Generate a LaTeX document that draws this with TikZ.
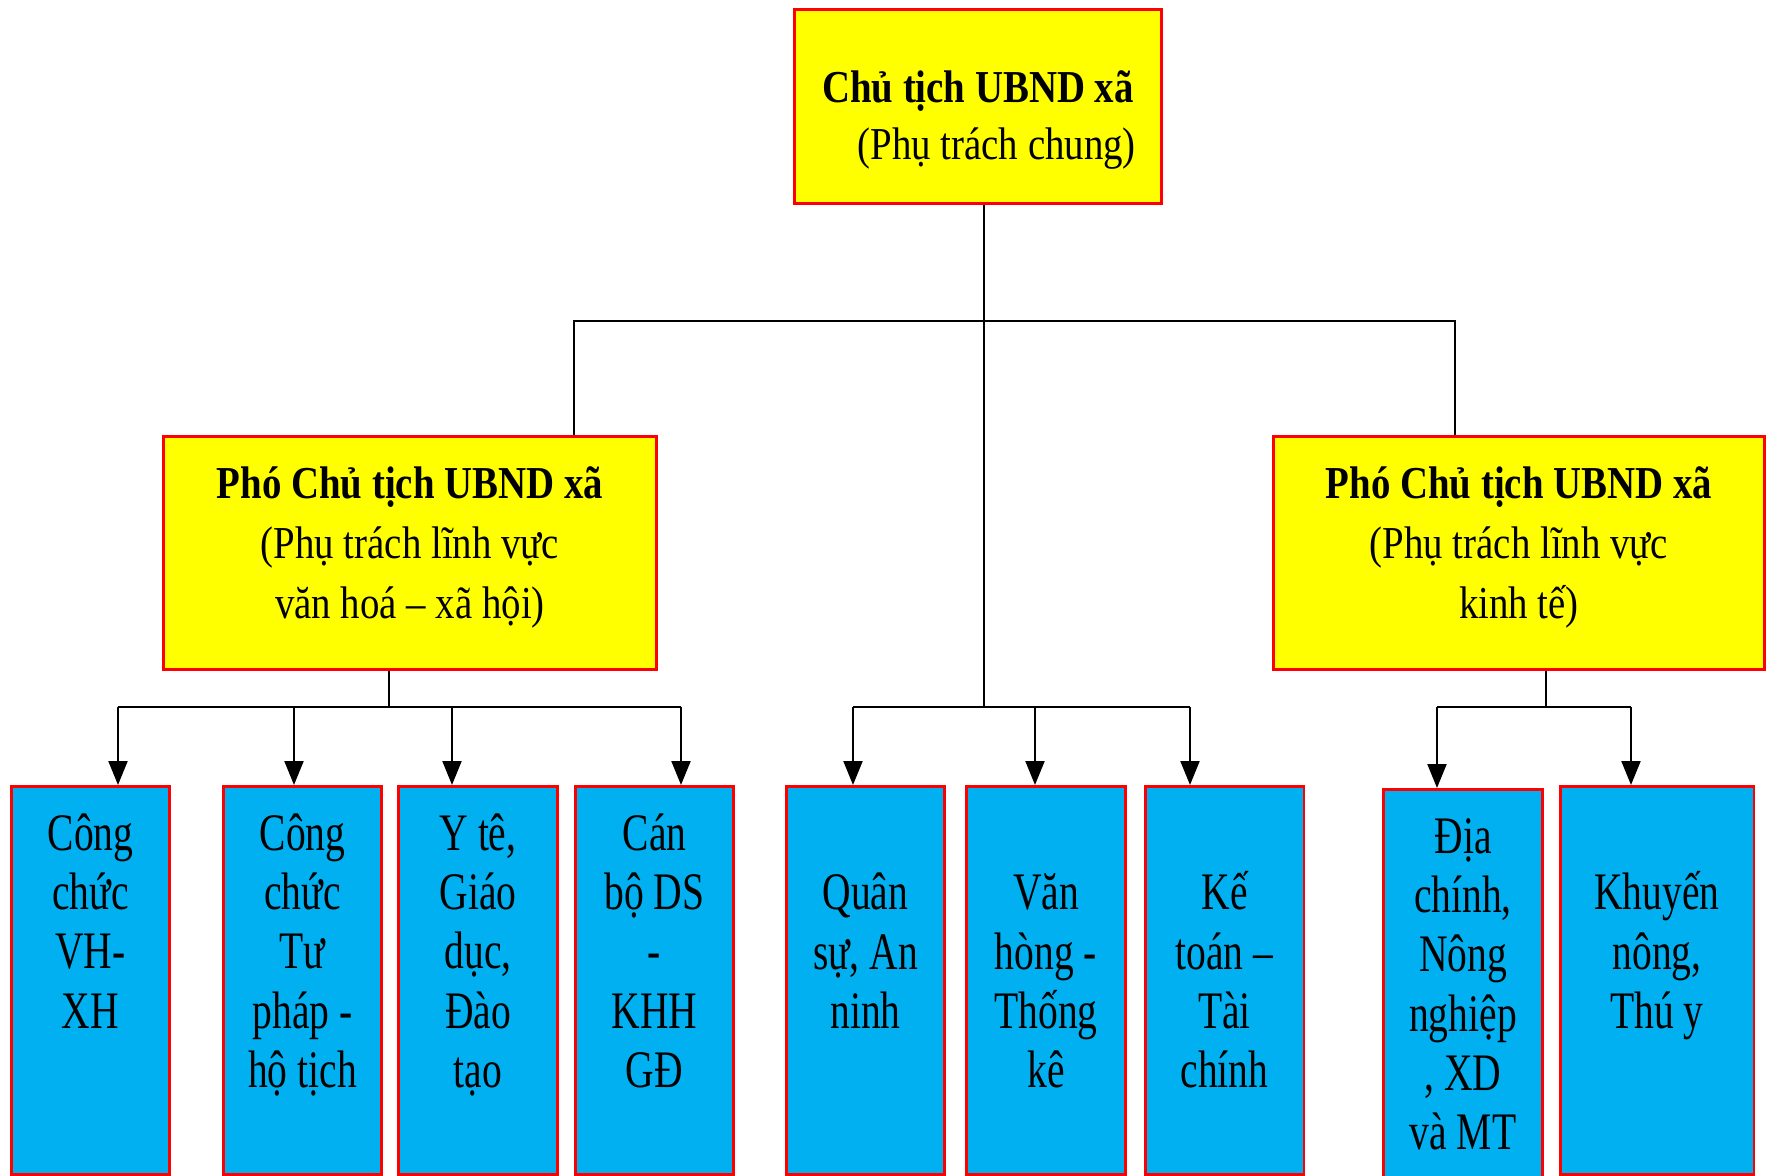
\documentclass[tikz,border=0pt]{standalone}
\usepackage{fontspec}
\newfontfamily\headfont{Liberation Serif}[FakeStretch=0.85]
\newfontfamily\unitfont{Liberation Serif}[FakeStretch=0.75]
\usepackage{tikz}
\usetikzlibrary{arrows.meta}
\definecolor{boxyellow}{RGB}{255,255,0}
\definecolor{boxblue}{RGB}{0,176,240}
\definecolor{boxred}{RGB}{255,0,0}
\newcommand{\unittext}[2][0.45cm]{\parbox[c][7.76cm][t]{3.1cm}{\centering\vspace*{#1}\strut #2}}
\newcommand{\headtext}[4]{\parbox[c][#1][t]{#2}{\centering\vspace*{#3}\strut #4}}

\begin{document}
\begin{tikzpicture}
    [
    x=0.02cm, y=-0.02cm,
    headbox/.style={rectangle,draw=boxred,fill=boxyellow,line width=1.7pt,inner sep=0pt,
      font=\headfont\fontsize{26}{34}\selectfont},
    unit/.style={rectangle,draw=boxred,fill=boxblue,line width=1.7pt,inner sep=0pt,anchor=north,
      minimum width=3.18cm,font=\unitfont\fontsize{30}{33.7}\selectfont},
    link/.style={line width=1.2pt},
    arrow/.style={link,-{Triangle[width=0.38cm,length=0.48cm]}}
    ]
    \useasboundingbox (0,0) rectangle (1766,1176);

    \node (chair) at (978,106.5) [headbox, font=\headfont\fontsize{26}{32.4}\selectfont]
      {\headtext{3.9cm}{7.36cm}{1.07cm}{\textbf{Chủ tịch UBND xã}\\\hspace*{0.75cm}(Phụ trách chung)}};
    \node (vpleft) at (410,553) [headbox]
      {\headtext{4.68cm}{9.88cm}{0.42cm}{\textbf{Phó Chủ tịch UBND xã}\\(Phụ trách lĩnh vực\\văn hoá – xã hội)}};
    \node (vpright) at (1519,553) [headbox]
      {\headtext{4.68cm}{9.84cm}{0.42cm}{\textbf{Phó Chủ tịch UBND xã}\\(Phụ trách lĩnh vực\\kinh tế)}};

    \node (u1) at (90.5,785) [unit] {\unittext{Công\\chức\\VH-\\XH}};
    \node (u2) at (302.5,785) [unit] {\unittext{Công\\chức\\Tư\\pháp -\\hộ tịch}};
    \node (u3) at (478,785) [unit] {\unittext{Y tê,\\Giáo\\dục,\\Đào\\tạo}};
    \node (u4) at (654.5,785) [unit] {\unittext{Cán\\bộ DS\\-\\KHH\\GĐ}};
    \node (u5) at (865.5,785) [unit] {\unittext[1.64cm]{Quân\\sự, An\\ninh}};
    \node (u6) at (1046,785) [unit] {\unittext[1.64cm]{Văn\\hòng -\\Thống\\kê}};
    \node (u7) at (1224.5,785) [unit] {\unittext[1.64cm]{Kế\\toán –\\Tài\\chính}};
    \node (u8) at (1463,788) [unit] {\unittext{Địa\\chính,\\Nông\\nghiệp\\, XD\\và MT}};
    \node (u9) at (1657,785) [unit, minimum width=3.88cm] {\unittext[1.64cm]{Khuyến\\nông,\\Thú y}};

    \coordinate (jmain) at (984,321);
    \coordinate (jleft) at (574,321);
    \coordinate (jright) at (1455,321);
    \coordinate (jmid) at (984,707);
    \coordinate (jl) at (389,707);
    \coordinate (jr) at (1546,707);
    \coordinate (a1) at (118,707);
    \coordinate (a2) at (294,707);
    \coordinate (a3) at (452,707);
    \coordinate (a4) at (681,707);
    \coordinate (a5) at (853,707);
    \coordinate (a6) at (1035,707);
    \coordinate (a7) at (1190,707);
    \coordinate (a8) at (1437,707);
    \coordinate (a9) at (1631,707);

    \draw [link] (chair.south -| jmain) to (jmid);
    \draw [link] (jleft |- vpleft.north) -- (jleft) -- (jright) -- (jright |- vpright.north);
    \draw [link] (vpleft.south -| jl) to (jl);
    \draw [link] (vpright.south -| jr) to (jr);
    \draw [link] (a1) to (a4);
    \draw [link] (a5) to (a7);
    \draw [link] (a8) to (a9);
    \foreach \a/\u in {a1/u1,a2/u2,a3/u3,a4/u4,a5/u5,a6/u6,a7/u7,a8/u8,a9/u9}
      \draw [arrow] (\a) to (\a |- \u.north);
  \end{tikzpicture}
\end{document}
